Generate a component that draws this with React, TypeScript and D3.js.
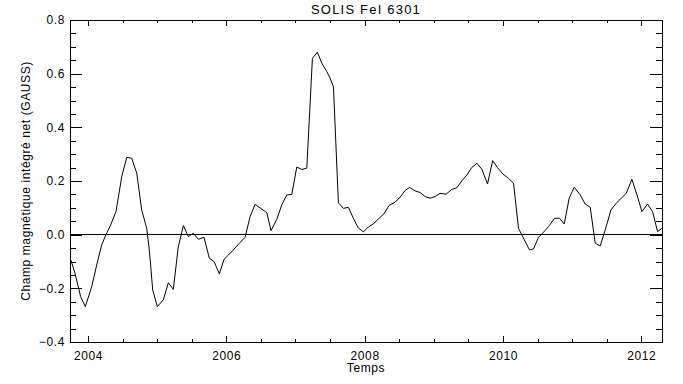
import React, { useEffect, useRef } from 'react';
import * as d3 from 'd3';

// decimal year of each Carrington rotation sample
const years = [
  2003.754, 2003.812, 2003.894, 2003.961, 2004.054, 2004.126, 2004.198, 2004.26, 2004.318, 2004.405,
  2004.488, 2004.56, 2004.632, 2004.705, 2004.777, 2004.849, 2004.887, 2004.936, 2005.003, 2005.089,
  2005.162, 2005.234, 2005.306, 2005.379, 2005.451, 2005.523, 2005.596, 2005.678, 2005.755, 2005.823,
  2005.899, 2005.967, 2006.03, 2006.102, 2006.174, 2006.271, 2006.344, 2006.416, 2006.498, 2006.585,
  2006.647, 2006.73, 2006.802, 2006.875, 2006.947, 2007.019, 2007.092, 2007.164, 2007.245, 2007.317,
  2007.381, 2007.453, 2007.501, 2007.549, 2007.621, 2007.693, 2007.766, 2007.834, 2007.906, 2007.983,
  2008.055, 2008.127, 2008.203, 2008.278, 2008.354, 2008.441, 2008.514, 2008.586, 2008.651, 2008.731,
  2008.803, 2008.875, 2008.948, 2009.02, 2009.092, 2009.179, 2009.262, 2009.334, 2009.406, 2009.479,
  2009.551, 2009.623, 2009.695, 2009.777, 2009.852, 2009.921, 2009.999, 2010.08, 2010.153, 2010.225,
  2010.297, 2010.384, 2010.442, 2010.514, 2010.587, 2010.659, 2010.746, 2010.818, 2010.886, 2010.958,
  2011.031, 2011.118, 2011.19, 2011.262, 2011.335, 2011.407, 2011.479, 2011.562, 2011.638, 2011.711,
  2011.783, 2011.865, 2011.938, 2012.01, 2012.091, 2012.164, 2012.236, 2012.299,
];

// net integrated field (gauss)
const field = [
  -0.095, -0.144, -0.231, -0.268, -0.194, -0.113, -0.038, 0.0, 0.03, 0.086,
  0.216, 0.288, 0.285, 0.229, 0.092, 0.024, -0.057, -0.206, -0.268, -0.243,
  -0.179, -0.204, -0.045, 0.034, -0.007, 0.005, -0.017, -0.01, -0.088, -0.1,
  -0.146, -0.092, -0.076, -0.057, -0.036, -0.01, 0.067, 0.113, 0.098, 0.082,
  0.015, 0.057, 0.111, 0.148, 0.15, 0.252, 0.243, 0.248, 0.657, 0.68,
  0.639, 0.608, 0.583, 0.552, 0.119, 0.098, 0.102, 0.063, 0.026, 0.01,
  0.029, 0.04, 0.06, 0.077, 0.109, 0.121, 0.14, 0.165, 0.176, 0.163,
  0.157, 0.142, 0.136, 0.142, 0.154, 0.151, 0.169, 0.175, 0.201, 0.222,
  0.251, 0.266, 0.244, 0.189, 0.276, 0.25, 0.226, 0.21, 0.192, 0.024,
  -0.013, -0.057, -0.053, -0.01, 0.009, 0.03, 0.061, 0.061, 0.04, 0.136,
  0.177, 0.148, 0.114, 0.102, -0.032, -0.042, 0.018, 0.092, 0.117, 0.136,
  0.154, 0.206, 0.148, 0.086, 0.114, 0.086, 0.011, 0.024,
];

const xMajor = [2004, 2006, 2008, 2010, 2012];
const xMinor = [2004.5, 2005, 2005.5, 2006.5, 2007, 2007.5, 2008.5, 2009, 2009.5, 2010.5, 2011, 2011.5];
const yMajor = [-0.4, -0.2, 0.0, 0.2, 0.4, 0.6, 0.8];
const yMinor = [-0.35, -0.3, -0.25, -0.15, -0.1, -0.05, 0.05, 0.1, 0.15, 0.25, 0.3, 0.35, 0.45, 0.5, 0.55, 0.65, 0.7, 0.75];

const FONT = '"Liberation Sans", Arial, sans-serif';

const App = () => {
  const svgRef = useRef<SVGSVGElement>(null);

  useEffect(() => {
    const svg = d3.select(svgRef.current);
    svg.selectAll('*').remove();

    const width = 683,
      height = 384,
      margin = { top: 20, right: 21, bottom: 42, left: 70 };
    const w = width - margin.left - margin.right;
    const h = height - margin.top - margin.bottom;

    const x = d3.scaleLinear().domain([2003.74, 2012.3]).range([0, w]);
    const y = d3.scaleLinear().domain([-0.4, 0.8]).range([h, 0]);

    svg.append('rect').attr('width', width).attr('height', height).attr('fill', '#fff');

    const g = svg.append('g').attr('transform', `translate(${margin.left},${margin.top})`);

    g.append('defs')
      .append('clipPath')
      .attr('id', 'plotclip')
      .append('rect')
      .attr('width', w)
      .attr('height', h);

    const style = (sel: any) => {
      sel.select('.domain').remove();
      sel.selectAll('line').attr('stroke', '#000').attr('shape-rendering', 'crispEdges');
      sel.attr('font-family', FONT).attr('font-size', 12);
      sel.selectAll('text').attr('fill', '#000').attr('letter-spacing', 0.6);
    };

    // bottom
    g.append('g')
      .attr('transform', `translate(0,${h})`)
      .call(d3.axisBottom(x).tickValues(xMajor).tickSize(-6).tickPadding(9).tickFormat(d3.format('d')))
      .call(style);
    g.append('g')
      .attr('transform', `translate(0,${h})`)
      .call(d3.axisBottom(x).tickValues(xMinor).tickSize(-3).tickFormat(() => ''))
      .call(style);
    // top
    g.append('g')
      .call(d3.axisTop(x).tickValues(xMajor).tickSize(-6).tickFormat(() => ''))
      .call(style);
    g.append('g')
      .call(d3.axisTop(x).tickValues(xMinor).tickSize(-3).tickFormat(() => ''))
      .call(style);
    // left
    g.append('g')
      .call(d3.axisLeft(y).tickValues(yMajor).tickSize(-12).tickPadding(5).tickFormat(d3.format('.1f')))
      .call(style);
    g.append('g')
      .call(d3.axisLeft(y).tickValues(yMinor).tickSize(-6).tickFormat(() => ''))
      .call(style);
    // right
    g.append('g')
      .attr('transform', `translate(${w},0)`)
      .call(d3.axisRight(y).tickValues(yMajor).tickSize(-12).tickFormat(() => ''))
      .call(style);
    g.append('g')
      .attr('transform', `translate(${w},0)`)
      .call(d3.axisRight(y).tickValues(yMinor).tickSize(-6).tickFormat(() => ''))
      .call(style);

    g.append('rect')
      .attr('width', w)
      .attr('height', h)
      .attr('fill', 'none')
      .attr('stroke', '#000')
      .attr('shape-rendering', 'crispEdges');

    // zero line
    g.append('line')
      .attr('x1', 0)
      .attr('x2', w)
      .attr('y1', y(0))
      .attr('y2', y(0))
      .attr('stroke', '#000')
      .attr('shape-rendering', 'crispEdges');

    const line = d3
      .line<number>()
      .x((d, i) => x(years[i]))
      .y((d) => y(d));

    g.append('path')
      .datum(field)
      .attr('clip-path', 'url(#plotclip)')
      .attr('fill', 'none')
      .attr('stroke', '#000')
      .attr('stroke-width', 1)
      .attr('d', line);

    svg.append('text')
      .attr('x', margin.left + w / 2)
      .attr('y', 14)
      .attr('text-anchor', 'middle')
      .attr('font-family', FONT)
      .attr('font-size', 13)
      .attr('letter-spacing', 1.2)
      .text('SOLIS FeI 6301');

    svg.append('text')
      .attr('x', margin.left + w / 2)
      .attr('y', 372)
      .attr('text-anchor', 'middle')
      .attr('font-family', FONT)
      .attr('font-size', 12)
      .attr('letter-spacing', 0.6)
      .text('Temps');

    svg.append('text')
      .attr('transform', `translate(30,${margin.top + h / 2}) rotate(-90)`)
      .attr('text-anchor', 'middle')
      .attr('font-family', FONT)
      .attr('font-size', 12)
      .attr('letter-spacing', 0.6)
      .text('Champ magnétique intégré net (GAUSS)');
  }, []);

  return <svg ref={svgRef} width={683} height={384} style={{ position: 'absolute', left: 0, top: 0 }} />;
};

export default App;
